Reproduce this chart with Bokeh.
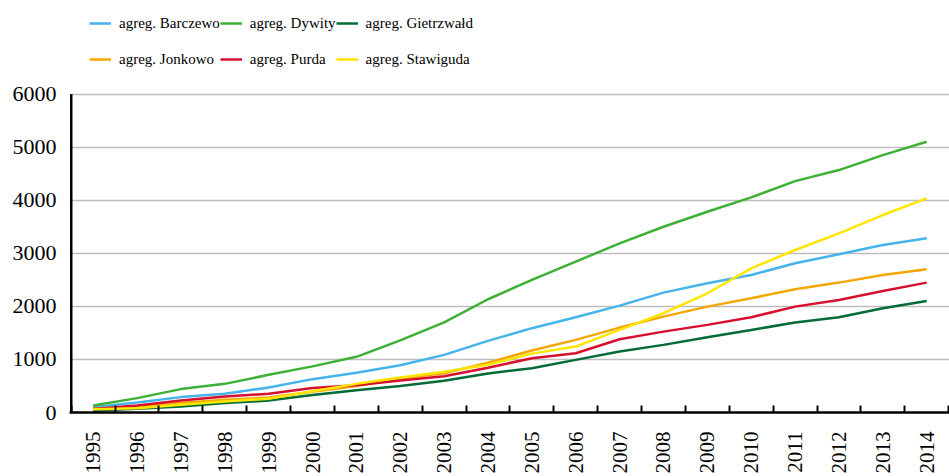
from bokeh.plotting import figure
from bokeh.models import Range1d, FixedTicker, Legend, LegendItem
from bokeh.embed import file_html
from bokeh.resources import INLINE

years = list(range(1995, 2015))
year_labels = [str(y) for y in years]

barczewo = [101, 188, 290, 352, 471, 629, 750, 890, 1087, 1350, 1590, 1796, 2015, 2260, 2437, 2593, 2813, 2983, 3158, 3284]
dywity = [132, 271, 441, 540, 710, 870, 1050, 1360, 1700, 2135, 2499, 2844, 3190, 3503, 3786, 4056, 4363, 4571, 4853, 5104]
gietrzwald = [32, 70, 113, 177, 226, 330, 420, 500, 597, 735, 836, 992, 1149, 1275, 1420, 1557, 1695, 1796, 1966, 2103]
jonkowo = [70, 113, 177, 239, 283, 390, 500, 640, 740, 940, 1170, 1369, 1601, 1808, 1996, 2154, 2323, 2449, 2593, 2700]
purda = [64, 132, 226, 301, 352, 460, 515, 605, 685, 845, 1024, 1118, 1382, 1525, 1652, 1796, 1996, 2122, 2292, 2449]
stawiguda = [60, 82, 145, 207, 258, 400, 540, 660, 770, 900, 1110, 1243, 1557, 1872, 2248, 2719, 3064, 3378, 3723, 4037]

series_names = ["agreg. Barczewo", "agreg. Dywity", "agreg. Gietrzwałd",
                "agreg. Jonkowo", "agreg. Purda", "agreg. Stawiguda"]
series_values = [barczewo, dywity, gietrzwald, jonkowo, purda, stawiguda]
series_colors = ["#45B4EA", "#3DB135", "#036B35", "#F4A700", "#D6102E", "#FFE500"]
y_ticks = [0, 1000, 2000, 3000, 4000, 5000, 6000]
y_max = y_ticks[-1]

FONT = "Liberation Serif"

# frame spans the full height above the x axis; the extra headroom holds the legend
p = figure(width=949, height=476, output_backend="svg", toolbar_location=None,
           x_range=Range1d(1994.46, 2014.52), y_range=Range1d(0, y_max * 413 / 319),
           min_border_left=69, min_border_right=0, min_border_top=0, min_border_bottom=63)
p.outline_line_color = None
p.background_fill_color = "white"

# visible y axis line, only from 0 to the top tick
p.segment(x0=[1994.5], y0=[0], x1=[1994.5], y1=[y_max], line_color="black", line_width=2.5)

renderers = []
for name, vals, col in zip(series_names, series_values, series_colors):
    r = p.line(years, vals, line_color=col, line_width=2.5)
    renderers.append((name, r))

# x axis
p.xaxis.ticker = FixedTicker(ticks=years, minor_ticks=[y - 0.5 for y in years] + [2014.5])
p.xaxis.major_label_overrides = {y: s for y, s in zip(years, year_labels)}
p.xaxis.major_label_orientation = 1.5708
p.xaxis.major_label_text_font = FONT
p.xaxis.major_label_text_font_size = "21px"
p.xaxis.major_label_text_color = "black"
p.xaxis.major_label_standoff = 19
p.xaxis.major_tick_in = 0
p.xaxis.major_tick_out = 0
p.xaxis.minor_tick_in = 7
p.xaxis.minor_tick_out = 0
p.xaxis.minor_tick_line_color = "black"
p.xaxis.minor_tick_line_width = 2
p.xaxis.axis_line_color = "black"
p.xaxis.axis_line_width = 2.5

# y axis
p.yaxis.ticker = FixedTicker(ticks=y_ticks, minor_ticks=[])
p.yaxis.major_label_text_font = FONT
p.yaxis.major_label_text_font_size = "22px"
p.yaxis.major_label_text_color = "black"
p.yaxis.major_label_standoff = 13
p.yaxis.major_tick_in = 0
p.yaxis.major_tick_out = 0
p.yaxis.axis_line_color = None

p.xgrid.grid_line_color = None
p.ygrid.ticker = FixedTicker(ticks=y_ticks)
p.ygrid.grid_line_color = "#BEBEBE"
p.ygrid.grid_line_width = 1.5

legend = Legend(items=[LegendItem(label=n, renderers=[r]) for n, r in renderers],
                orientation="horizontal", ncols=3,
                location=(20, 335), padding=0, margin=0,
                border_line_color=None, background_fill_alpha=0,
                label_text_font=FONT, label_text_font_size="15px",
                label_text_color="black",
                label_height=36, glyph_height=36, glyph_width=22,
                label_standoff=8, spacing=0)
p.add_layout(legend, "center")

open("out.html", "w").write(file_html(p, INLINE))
